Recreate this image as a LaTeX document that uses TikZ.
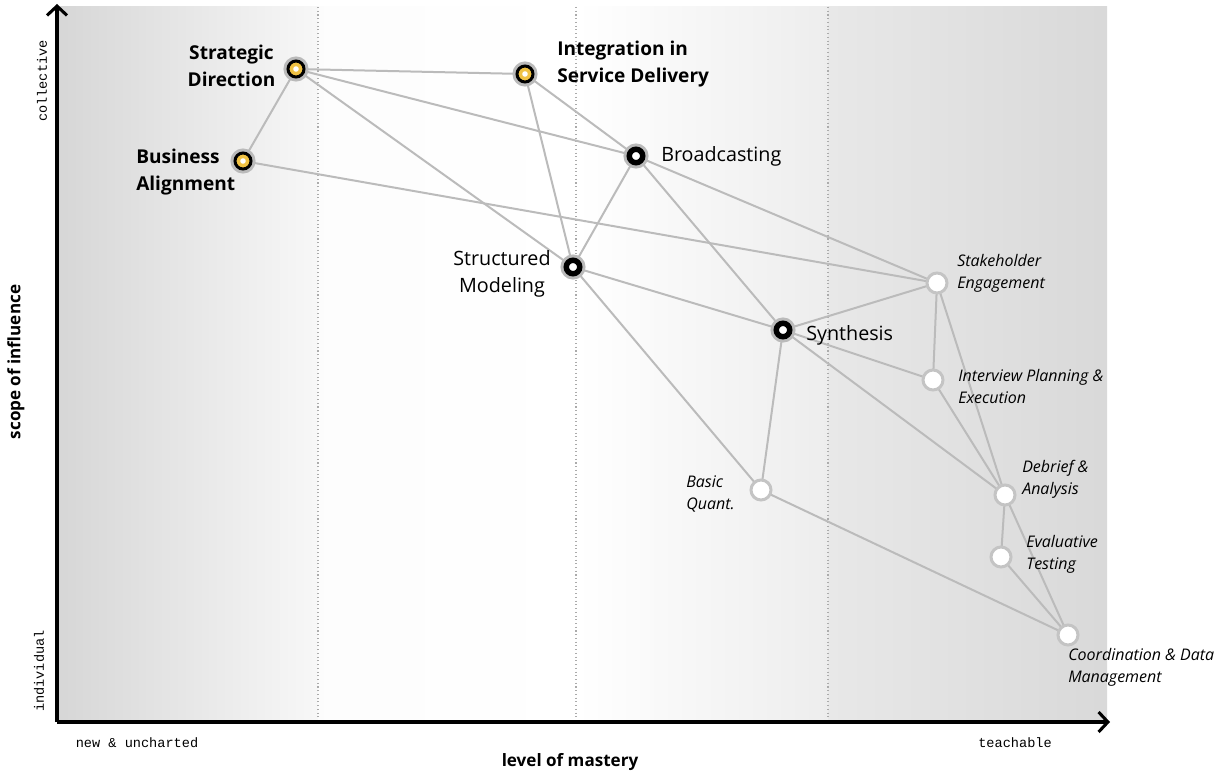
\documentclass[tikz,border=0pt]{standalone}
\usepackage{fontspec}
\setmainfont{Open Sans}
\newfontfamily\axisfont{Liberation Mono}
\usetikzlibrary{arrows.meta}
\definecolor{gold}{HTML}{F0C244}
\definecolor{ringgray}{HTML}{BABABA}
\definecolor{edgegray}{HTML}{BBBBBB}
\definecolor{softgray}{HTML}{C4C4C4}
\definecolor{dotgray}{HTML}{ABABAB}
\pgfdeclarelayer{bg}
\pgfdeclarelayer{links}
\pgfsetlayers{bg,links,main}
\begin{document}
\begin{tikzpicture}[x=0.75pt,y=-0.75pt,
  leadnode/.style={circle, inner sep=0pt, minimum size=12pt, fill=gold,
    draw=black, line width=2.25pt,
    preaction={draw=ringgray, line width=6.75pt},
    path picture={\fill[white] (path picture bounding box.center) circle (2.1pt);}},
  corenode/.style={circle, inner sep=0pt, minimum size=10.1pt, fill=white,
    draw=black, line width=4.1pt,
    preaction={draw=ringgray, line width=8.6pt}},
  skillnode/.style={circle, inner sep=0pt, minimum size=15pt, fill=white,
    draw=softgray, line width=2.25pt},
  link/.style={draw=edgegray, line width=1.5pt},
  boldlabel/.style={inner sep=0pt, font=\fontsize{14.3pt}{20.2pt}\selectfont\bfseries},
  plainlabel/.style={inner sep=0pt, font=\fontsize{14.8pt}{20.2pt}\selectfont},
  skilllabel/.style={inner sep=0pt, align=left, anchor=west,
    font=\fontsize{12pt}{16.5pt}\selectfont\itshape},
  monolabel/.style={inner sep=0pt, font=\axisfont\fontsize{10.2pt}{12pt}\selectfont},
  axistitle/.style={inner sep=0pt, font=\fontsize{12.8pt}{14pt}\selectfont\bfseries},
  axisline/.style={line width=2.3pt, -{Straight Barb[length=7pt,width=15pt,line width=2.3pt]}},
  bandline/.style={draw=dotgray, line width=0.8pt, dotted}
]
\useasboundingbox (0,0) rectangle (1216,774);

% ---- nodes ----
\node[leadnode] (strat) at (296,69) {};
\node[leadnode] (integ) at (525,74) {};
\node[leadnode] (busi)  at (243,161) {};
\node[corenode] (broad) at (636,156) {};
\node[corenode] (struct) at (573,267) {};
\node[corenode] (synth) at (783,330) {};
\node[skillnode] (stake) at (937,283) {};
\node[skillnode] (inter) at (933,380) {};
\node[skillnode] (quant) at (761,490) {};
\node[skillnode] (debr)  at (1005,495) {};
\node[skillnode] (evalt) at (1001,557) {};
\node[skillnode] (coord) at (1068,635) {};

% ---- labels ----
\node[boldlabel, align=center] (lstrat) at (231.5,66) {Strategic\\Direction};
\node[boldlabel, align=left, anchor=west] (linteg) at (557,64) {Integration in\\Service Delivery};
\node[boldlabel, align=left, anchor=west] (lbusi) at (136,172) {Business\\Alignment};
\node[plainlabel, anchor=west] (lbroad) at (661,156) {Broadcasting};
\node[plainlabel, align=center] (lstruct) at (502,274) {Structured\\Modeling};
\node[plainlabel, anchor=west] (lsynth) at (806,335) {Synthesis};
\node[skilllabel] (lstake) at (957,273) {Stakeholder\\Engagement};
\node[skilllabel] (linter) at (958,386) {Interview Planning \&\\Execution};
\node[skilllabel] (lquant) at (686,494) {Basic\\Quant.};
\node[skilllabel] (ldebr) at (1022,479) {Debrief \&\\Analysis};
\node[skilllabel] (levalt) at (1026,554) {Evaluative\\Testing};
\node[skilllabel] (lcoord) at (1068,667) {Coordination \& Data\\Management};

% ---- axis texts ----
\node[monolabel, rotate=90] (tcoll) at (42,81) {collective};
\node[monolabel, rotate=90] (tindi) at (39,671) {individual};
\node[monolabel] (tnew) at (137,743) {new \& uncharted};
\node[monolabel] (tteach) at (1015,743) {teachable};
\node[axistitle] (tmast) at (570,762) {level of mastery};
\node[axistitle, rotate=90] (tscope) at (16,362) {scope of influence};

% ---- background: shaded bands, dotted dividers, axes ----
\begin{pgfonlayer}{bg}
  \shade[left color=black!16, right color=black!3] (57,7) rectangle (318,722);
  \shade[left color=black!1, right color=white] (318,7) rectangle (576,722);
  \shade[left color=white, right color=black!7] (576,7) rectangle (828,722);
  \shade[left color=black!9, right color=black!15] (828,7) rectangle (1107,722);
  \coordinate (top1) at (318,7);  \coordinate (bot1) at (318,722);
  \coordinate (top2) at (576,7);  \coordinate (bot2) at (576,722);
  \coordinate (top3) at (828,7);  \coordinate (bot3) at (828,722);
  \draw[bandline] (top1) -- (bot1);
  \draw[bandline] (top2) -- (bot2);
  \draw[bandline] (top3) -- (bot3);
  \coordinate (origin) at (57,722);
  \coordinate (ytip) at (57,4);
  \coordinate (xtip) at (1110,722);
  \draw[axisline] (origin) -- (ytip);
  \draw[axisline] (origin) -- (xtip);
\end{pgfonlayer}

% ---- connectors ----
\begin{pgfonlayer}{links}
  \draw[link] (strat.center) -- (busi.center);
  \draw[link] (strat.center) -- (integ.center);
  \draw[link] (strat.center) -- (broad.center);
  \draw[link] (strat.center) -- (struct.center);
  \draw[link] (integ.center) -- (broad.center);
  \draw[link] (integ.center) -- (struct.center);
  \draw[link] (busi.center) -- (stake.center);
  \draw[link] (broad.center) -- (struct.center);
  \draw[link] (broad.center) -- (synth.center);
  \draw[link] (broad.center) -- (stake.center);
  \draw[link] (struct.center) -- (synth.center);
  \draw[link] (struct.center) -- (quant.center);
  \draw[link] (synth.center) -- (stake.center);
  \draw[link] (synth.center) -- (inter.center);
  \draw[link] (synth.center) -- (quant.center);
  \draw[link] (synth.center) -- (debr.center);
  \draw[link] (stake.center) -- (inter.center);
  \draw[link] (stake.center) -- (debr.center);
  \draw[link] (inter.center) -- (debr.center);
  \draw[link] (debr.center) -- (evalt.center);
  \draw[link] (debr.center) -- (coord.center);
  \draw[link] (evalt.center) -- (coord.center);
  \draw[link] (quant.center) -- (coord.center);
\end{pgfonlayer}
\end{tikzpicture}
\end{document}
